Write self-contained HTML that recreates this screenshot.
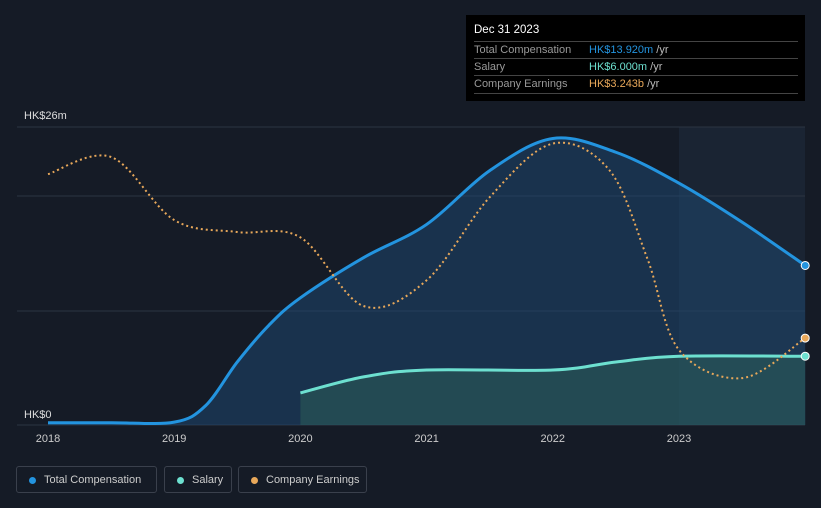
<!DOCTYPE html>
<html><head><meta charset="utf-8"><style>
body{margin:0;background:#151b26;width:821px;height:508px;overflow:hidden;font-family:"Liberation Sans",sans-serif;}
.tt{position:absolute;left:466px;top:15px;width:339px;height:86px;background:#000;color:#fff;font-size:11px}
.tt .h{position:absolute;left:8px;top:9px;font-size:11.5px}
.tt .r{position:absolute;left:8px;width:324px;border-top:1px solid #444;height:17px;line-height:17px;color:#999}
.tt .r span{position:absolute;left:115px}
.leg{position:absolute;top:466px;height:27px;border:1px solid #3a404c;border-radius:3px;color:#ccc;font-size:11px;line-height:27px;box-sizing:border-box;padding-left:27px}
.leg i{position:absolute;left:12px;top:10px;width:7px;height:7px;border-radius:50%}
</style></head><body>
<svg id="c" width="821" height="508" style="position:absolute;left:0;top:0"></svg>
<div class="tt">
<div class="h">Dec 31 2023</div>
<div class="r" style="top:26px">Total Compensation<span style="color:#2394df">HK$13.920m <b style="font-weight:normal;color:#bbb">/yr</b></span></div>
<div class="r" style="top:43px">Salary<span style="color:#6de0d0">HK$6.000m <b style="font-weight:normal;color:#bbb">/yr</b></span></div>
<div class="r" style="top:60px;border-bottom:1px solid #444">Company Earnings<span style="color:#e8a85a">HK$3.243b <b style="font-weight:normal;color:#bbb">/yr</b></span></div>
</div>
<div class="leg" style="left:16px;width:141px"><i style="background:#2394df"></i>Total Compensation</div>
<div class="leg" style="left:164px;width:68px"><i style="background:#6de0d0"></i>Salary</div>
<div class="leg" style="left:238px;width:129px"><i style="background:#e8a85a"></i>Company Earnings</div>
<script>
const compX=[2018,2018.5,2019,2019.25,2019.5,2019.75,2020,2020.5,2021,2021.5,2022,2022.5,2023,2023.5,2024];
const compY=[0.2,0.2,0.25,1.7,5.5,8.7,11.1,14.6,17.5,22.2,25.0,23.8,21.1,17.7,13.92];
const salX=[2020,2020.5,2021,2022,2022.5,2023,2024];
const salY=[2.8,4.2,4.8,4.8,5.5,6.0,6.0];
const earnX=[2018,2018.5,2019,2019.5,2020,2020.5,2021,2021.5,2022,2022.45,2022.75,2023,2023.5,2024];
const earnY=[9.36,10.0,7.65,7.2,7.0,4.44,5.4,8.5,10.5,9.5,6.2,2.8,1.75,3.243];
const yearTicks=[2018,2019,2020,2021,2022,2023];
const X=v=>48+(v-2018)*126.2, Y=v=>425-v*11.46, YE=v=>425-v*26.8;
const s=document.getElementById('c'),NS='http://www.w3.org/2000/svg';
function mk(t,a,p){const e=document.createElementNS(NS,t);for(const k in a)e.setAttribute(k,a[k]);(p||s).appendChild(e);return e;}
function smooth(pts){let d='M'+pts[0][0]+','+pts[0][1];for(let i=0;i<pts.length-1;i++){const p0=pts[Math.max(0,i-1)],p1=pts[i],p2=pts[i+1],p3=pts[Math.min(pts.length-1,i+2)];d+=' C'+(p1[0]+(p2[0]-p0[0])/6)+','+(p1[1]+(p2[1]-p0[1])/6)+' '+(p2[0]-(p3[0]-p1[0])/6)+','+(p2[1]-(p3[1]-p1[1])/6)+' '+p2[0]+','+p2[1];}return d;}
const hl=mk('rect',{x:X(2023),y:127,width:805-X(2023),height:298,fill:'#1a2433'});

[127,196,311,425].forEach(y=>{const l=mk('line',{x1:17,x2:805,y1:y,y2:y,stroke:'#2c3442','stroke-width':1});});
const t1=mk('text',{x:24,y:119,fill:'#ddd','font-size':11});t1.textContent='HK$26m';
const t0=mk('text',{x:24,y:418,fill:'#ddd','font-size':11});t0.textContent='HK$0';
yearTicks.forEach(yr=>{const t=mk('text',{x:X(yr),y:442,fill:'#ccc','font-size':11,'text-anchor':'middle'});t.textContent=yr;});
const cp=compX.map((x,i)=>[X(x),Y(compY[i])]);
const cd=smooth(cp);
const ca=mk('path',{d:cd+' L'+cp[cp.length-1][0]+',425 L'+cp[0][0]+',425 Z',fill:'#1e4a73','fill-opacity':0.5});

const sp=salX.map((x,i)=>[X(x),Y(salY[i])]);
const sd=smooth(sp);
const sa=mk('path',{d:sd+' L'+sp[sp.length-1][0]+',425 L'+sp[0][0]+',425 Z',fill:'#2a5a58','fill-opacity':0.6});

const cl=mk('path',{d:cd,fill:'none',stroke:'#2394df','stroke-width':3});

const sl=mk('path',{d:sd,fill:'none',stroke:'#6de0d0','stroke-width':3});

const ep=earnX.map((x,i)=>[X(x),YE(earnY[i])]);
const el=mk('path',{d:smooth(ep),fill:'none',stroke:'#e8a85a','stroke-width':2,'stroke-dasharray':'2,3'});

[[cp,'#2394df','total-compensation-end-dot'],[sp,'#6de0d0','salary-end-dot'],[ep,'#e8a85a','earnings-end-dot']].forEach(([p,c,n])=>{const q=p[p.length-1];const d=mk('circle',{cx:q[0],cy:q[1],r:4,fill:c,stroke:'#fff','stroke-width':1});});
</script>
</body></html>
